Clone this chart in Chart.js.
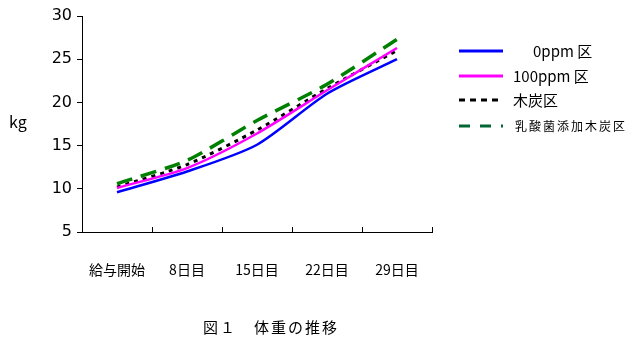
<!DOCTYPE html>
<html>
<head>
<meta charset="utf-8">
<script src="https://cdn.jsdelivr.net/npm/chart.js@4"></script>
<style>
  html, body { margin: 0; padding: 0; background: #fff; }
  #wrap { width: 637px; height: 345px; position: relative; }
</style>
</head>
<body>
<div id="wrap"><canvas id="weightChart"></canvas></div>
<script>
const categories = ["給与開始", "8日目", "15日目", "22日目", "29日目"];
const seriesNames = ["0ppm 区", "100ppm 区", "木炭区", "乳酸菌添加木炭区"];
const ppm0 = [9.6, 12.0, 15.1, 21.0, 25.0];
const ppm100 = [10.1, 12.4, 16.4, 21.4, 26.3];
const charcoal = [10.2, 12.8, 16.8, 21.6, 26.0];
const lactoCharcoal = [10.6, 13.3, 17.9, 22.1, 27.3];
const yTicks = [5, 10, 15, 20, 25, 30];

const jpFont = "'Noto Sans CJK JP', 'DejaVu Sans', sans-serif";

const styles = [
    { color: "#0000ff", width: 2.5, dash: [] },
    { color: "#ff00ff", width: 2.5, dash: [] },
    { color: "#000000", width: 3, dash: [4, 5] },
    { color: "#008000", width: 3.5, dash: [16, 9] }
];

const extras = {
    id: "extras",
    afterDraw(chart) {
        const ctx = chart.ctx;
        const area = chart.chartArea;
        ctx.save();
        // x tick marks, pointing up into the plot
        ctx.strokeStyle = "#000";
        ctx.lineWidth = 1;
        const step = (area.right - area.left) / categories.length;
        for (let i = 1; i <= categories.length; i++) {
            const px = Math.round(area.left + i * step) + 0.5;
            ctx.beginPath();
            ctx.moveTo(px, area.bottom);
            ctx.lineTo(px, area.bottom - 5);
            ctx.stroke();
        }
        // y label
        ctx.fillStyle = "#000";
        ctx.font = "16px " + jpFont;
        ctx.textAlign = "left";
        ctx.textBaseline = "middle";
        ctx.fillText("kg", 9, 122);
        // legend
        const rows = [51, 76, 100, 126];
        chart.data.datasets.forEach((ds, i) => {
            const st = styles[i];
            ctx.strokeStyle = i === 3 ? "#006633" : st.color;
            ctx.lineWidth = 3;
            ctx.setLineDash(i === 3 ? [11, 10] : st.dash.length ? [6, 5] : []);
            ctx.beginPath();
            ctx.moveTo(459, rows[i]);
            ctx.lineTo(503, rows[i]);
            ctx.stroke();
            ctx.setLineDash([]);
            ctx.fillStyle = "#000";
            if (i === 3) {
                ctx.font = "12px " + jpFont;
                ctx.letterSpacing = "2px";
                ctx.fillText(ds.label, 515, rows[i]);
                ctx.letterSpacing = "0px";
            } else {
                ctx.font = "15px " + jpFont;
                ctx.fillText(ds.label, i === 0 ? 533 : 513, rows[i]);
            }
        });
        // caption
        ctx.font = "15px " + jpFont;
        ctx.textAlign = "left";
        ctx.letterSpacing = "2px";
        ctx.fillText("図１　体重の推移", 203, 327);
        ctx.restore();
    }
};

new Chart(document.getElementById("weightChart"), {
    type: "line",
    data: {
        labels: categories,
        datasets: [ppm0, ppm100, charcoal, lactoCharcoal].map((d, i) => ({
            label: seriesNames[i],
            data: d,
            borderColor: styles[i].color,
            borderWidth: styles[i].width,
            borderDash: styles[i].dash,
            pointRadius: 0,
            tension: 0.25,
            fill: false
        }))
    },
    options: {
        responsive: true,
        maintainAspectRatio: false,
        animation: false,
        devicePixelRatio: 1,
        layout: { padding: { top: 16, right: 205, left: 0, bottom: 0 } },
        plugins: {
            legend: { display: false },
            tooltip: { enabled: false }
        },
        scales: {
            x: {
                offset: true,
                grid: { display: false, drawTicks: false },
                border: { display: true, color: "#000", width: 1 },
                ticks: {
                    color: "#000",
                    font: { family: jpFont, size: 14 },
                    padding: 29,
                    maxRotation: 0,
                    autoSkip: false
                },
                afterFit(scale) { scale.height = 113; }
            },
            y: {
                min: 5,
                max: 30,
                afterBuildTicks(scale) { scale.ticks = yTicks.map(v => ({ value: v })); },
                grid: { drawOnChartArea: false, color: "#000", tickLength: 5 },
                border: { display: true, color: "#000", width: 1 },
                ticks: {
                    color: "#000",
                    font: { family: "'DejaVu Sans', sans-serif", size: 16 },
                    padding: 5
                },
                afterFit(scale) { scale.width = 82; }
            }
        }
    },
    plugins: [extras]
});
</script>
</body>
</html>
